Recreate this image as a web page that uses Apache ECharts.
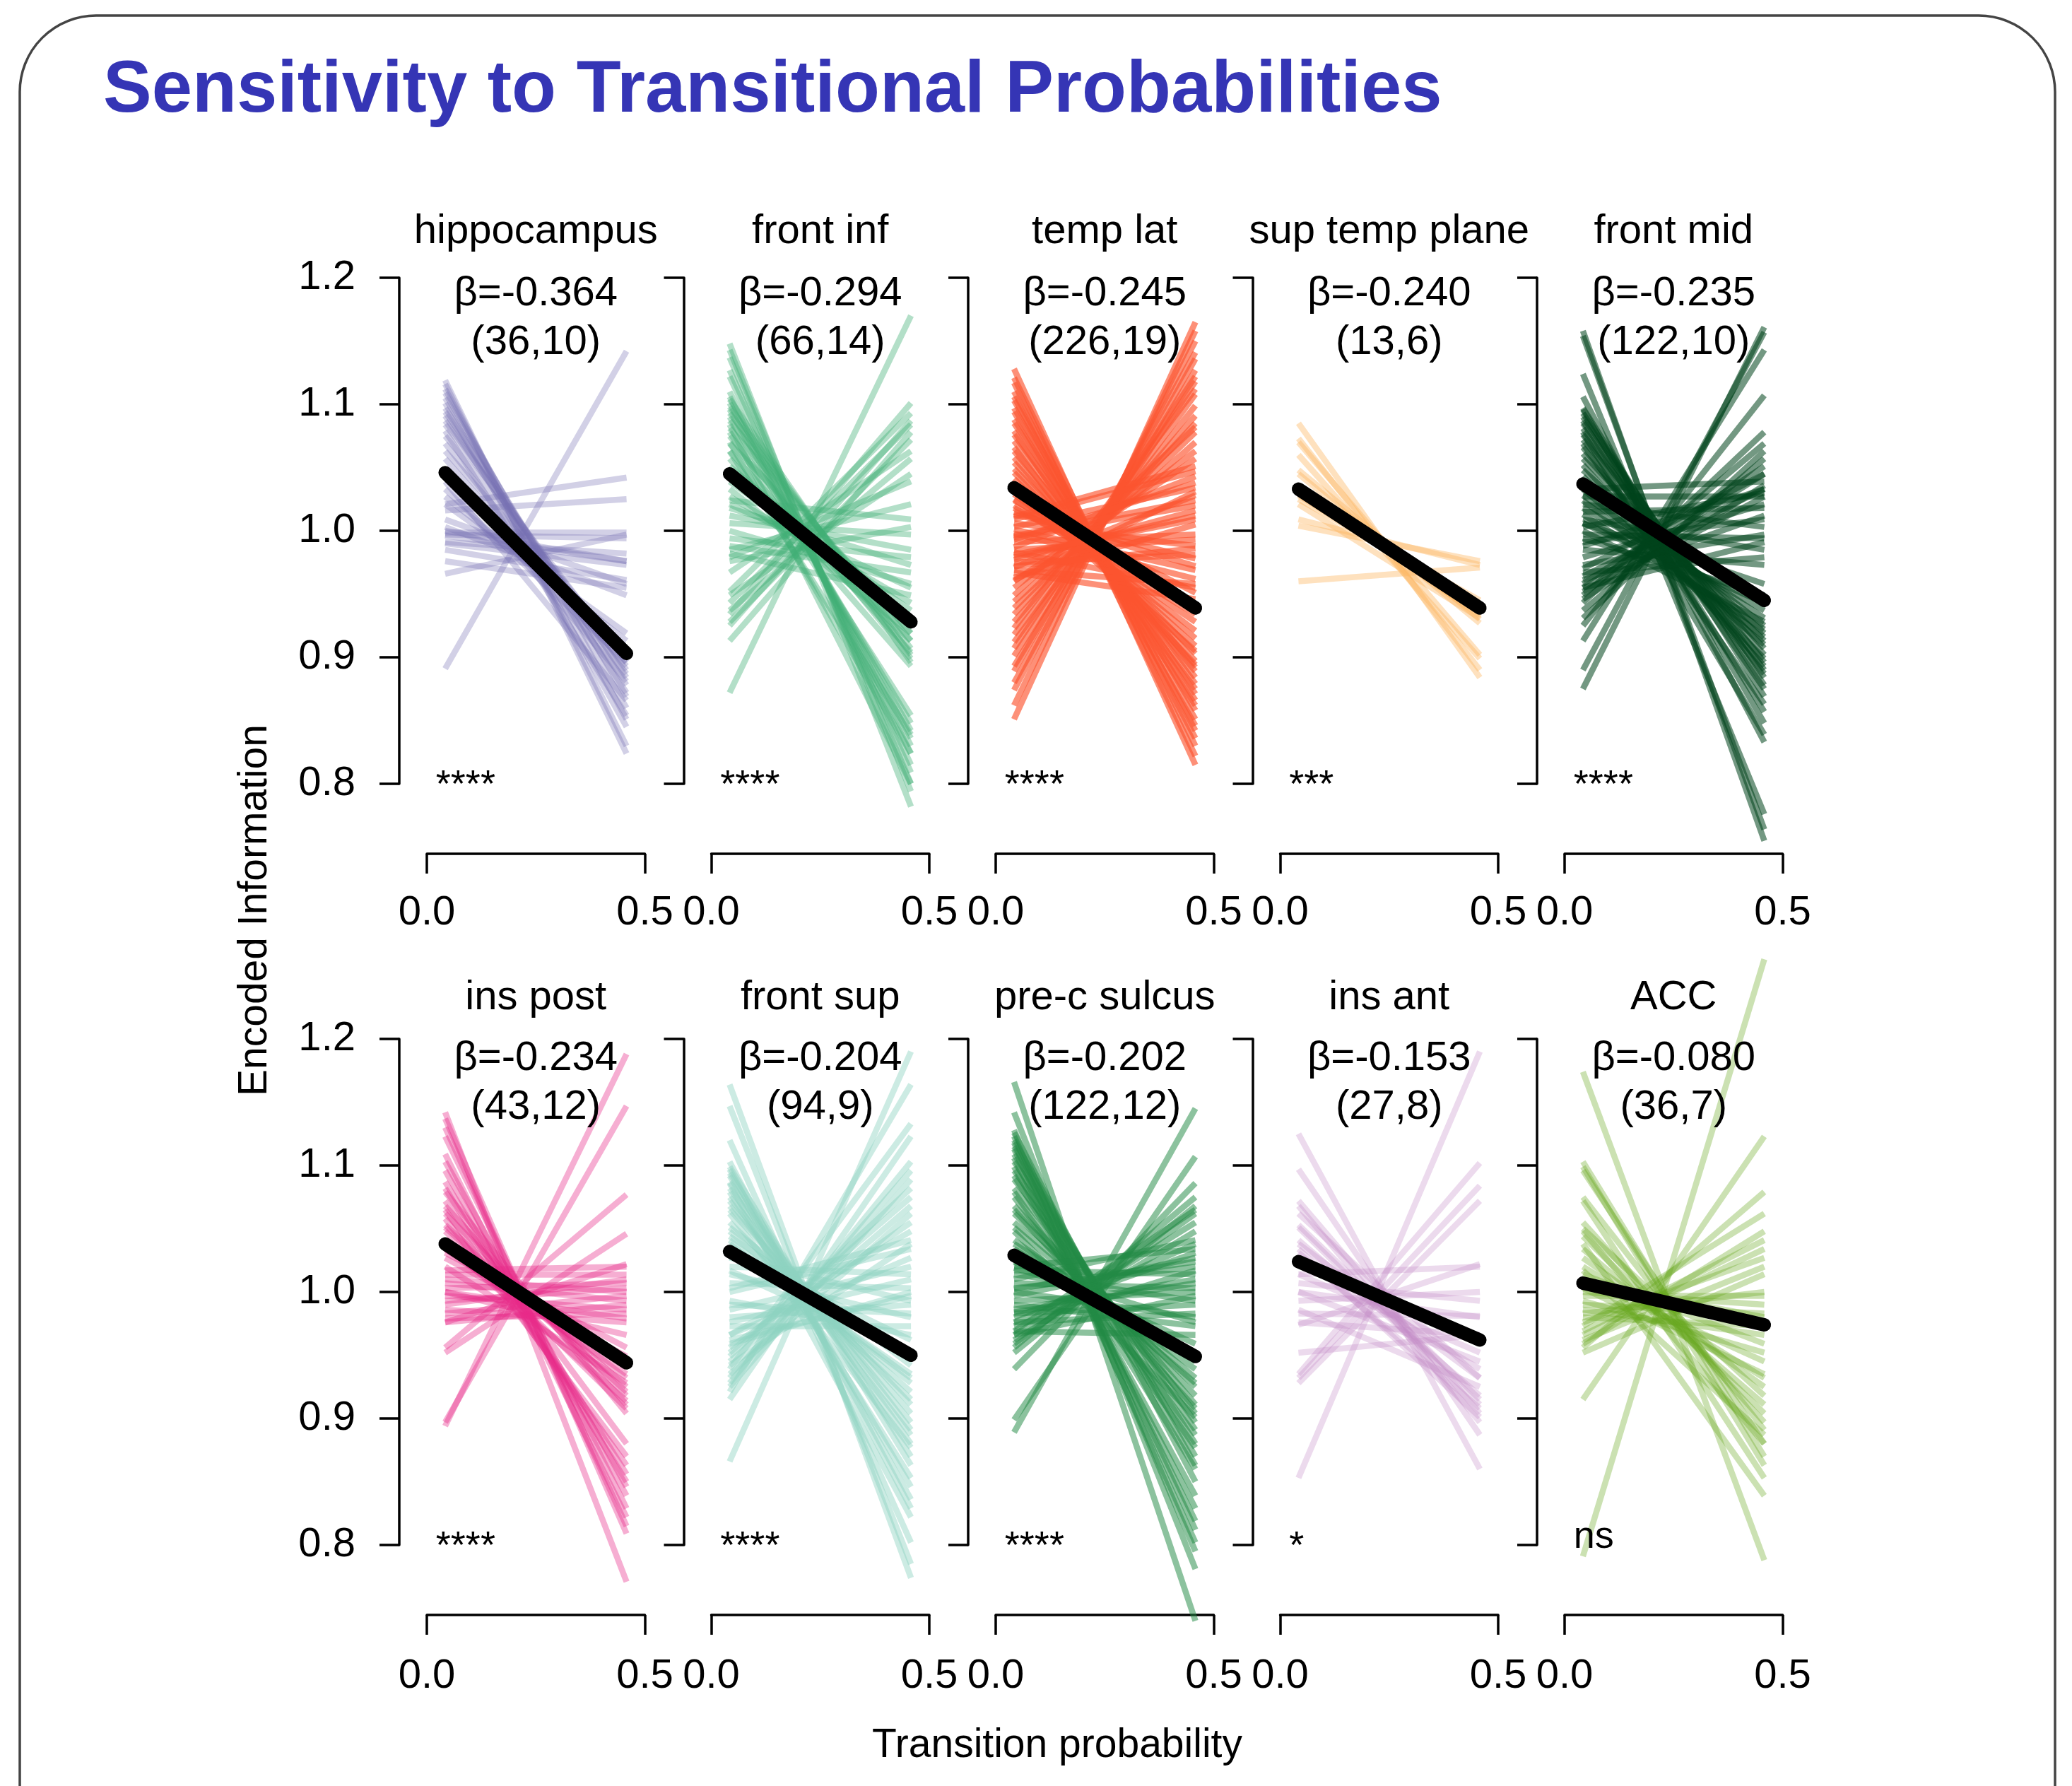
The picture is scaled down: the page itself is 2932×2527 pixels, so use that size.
<!DOCTYPE html>
<html><head><meta charset="utf-8">
<script src="https://cdn.jsdelivr.net/npm/echarts@6/dist/echarts.min.js"></script>
<style>html,body{margin:0;padding:0;background:#fff}#chart{width:2932px;height:2527px}</style>
</head><body><div id="chart"></div>
<script>
// ---------------- DATA ----------------
const regions = ['hippocampus','front inf','temp lat','sup temp plane','front mid','ins post','front sup','pre-c sulcus','ins ant','ACC'];
const betas = ['-0.364','-0.294','-0.245','-0.240','-0.235','-0.234','-0.204','-0.202','-0.153','-0.080'];
const counts = ['(36,10)','(66,14)','(226,19)','(13,6)','(122,10)','(43,12)','(94,9)','(122,12)','(27,8)','(36,7)'];
const signif = ['****','****','****','***','****','****','****','****','*','ns'];
const tpValues = [0.042, 0.458];
const meanLow  = [1.046,1.045,1.034,1.033,1.037,1.038,1.032,1.029,1.024,1.007];
const meanHigh = [0.903,0.928,0.939,0.939,0.945,0.944,0.950,0.949,0.962,0.974];

const hippoLow  = [1.119,1.116,1.112,1.109,1.105,1.101,1.097,1.094,1.091,1.087,1.084,1.079,1.075,1.069,1.063,1.057,1.049,1.045,1.039,1.033,1.027,1.021,1.021,1.016,0.999,0.997,0.996,0.991,0.990,0.985,0.976,0.966,1.003,1.009,1.000,0.891];
const hippoHigh = [0.824,0.830,0.851,0.860,0.869,0.845,0.878,0.884,0.872,0.890,0.896,0.854,0.899,0.887,0.902,0.893,0.881,0.904,0.866,0.896,0.913,0.919,1.042,1.025,0.999,0.994,0.976,0.982,0.973,0.961,0.955,0.997,0.949,0.958,0.976,1.142];

const frontInfLow  = [1.148,1.143,1.137,1.127,1.122,1.110,1.106,1.101,1.096,1.090,1.084,1.078,1.070,1.063,1.104,1.098,1.093,1.087,1.081,1.075,1.069,1.063,1.057,1.051,1.045,1.039,1.033,1.027,1.024,1.018,1.012,1.006,1.000,0.994,0.988,0.982,0.976,1.021,0.952,0.943,0.934,0.928,0.913,0.949,0.937,0.979,0.967,0.925,0.985,0.872];
const frontInfHigh = [0.782,0.794,0.800,0.809,0.815,0.824,0.830,0.836,0.842,0.848,0.800,0.854,0.824,0.839,0.896,0.902,0.907,0.913,0.919,0.899,0.925,0.904,0.893,0.931,0.913,0.937,0.919,0.943,1.009,0.973,0.985,0.997,0.958,0.979,0.967,0.949,1.003,0.955,1.093,1.084,1.101,1.072,1.078,1.045,1.057,1.039,1.063,1.087,1.021,1.170];

const tempLatLow  = [1.128,1.121,1.117,1.110,1.106,1.103,1.097,1.094,1.088,1.085,1.079,1.076,1.071,1.066,1.063,1.058,1.054,1.049,1.046,1.041,1.037,1.033,1.029,1.025,1.020,0.851,0.862,0.874,0.880,0.889,0.893,0.901,0.907,0.912,0.918,0.923,0.928,0.934,0.939,0.944,0.949,0.955,0.960,1.015,1.011,1.006,1.003,0.998,0.995,0.991,0.987,0.983,0.979,0.975,0.971,0.967,0.963,1.018,1.009,1.001,0.993,0.985,0.977,0.969,0.961,1.024,1.013,0.996,0.981,0.972];
const tempLatHigh = [0.815,0.830,0.822,0.842,0.836,0.851,0.858,0.846,0.866,0.871,0.862,0.879,0.884,0.875,0.892,0.889,0.897,0.903,0.894,0.909,0.915,0.905,0.921,0.928,0.934,1.165,1.158,1.150,1.136,1.141,1.127,1.118,1.122,1.108,1.099,1.112,1.091,1.085,1.078,1.070,1.082,1.063,1.057,0.972,1.051,0.988,1.034,0.962,1.020,0.997,1.043,0.955,1.012,0.981,1.028,0.946,1.005,0.941,1.047,0.969,1.038,0.993,1.016,0.958,1.031,0.951,0.978,1.024,1.009,0.986];

const supTempLow  = [1.085,1.073,1.070,1.060,1.048,1.045,1.033,1.028,1.025,1.021,1.009,1.004,0.960];
const supTempHigh = [0.884,0.890,0.902,0.899,0.930,0.927,0.933,0.940,0.945,0.931,0.973,0.976,0.971];

const frontMidLow  = [1.158,1.154,1.124,1.106,1.096,1.087,1.078,1.069,1.097,1.093,1.090,1.085,1.081,1.076,1.072,1.066,1.061,1.057,1.052,1.048,1.043,1.039,1.033,1.028,1.024,1.018,1.013,1.006,1.000,0.994,1.033,1.027,1.021,1.015,1.009,1.003,0.997,0.991,0.985,0.979,0.973,0.967,0.961,0.955,0.988,1.006,0.875,0.890,0.913,0.925,0.943,0.949,0.931,0.937,0.955,0.946,0.964,0.970,0.952,0.958];
const frontMidHigh = [0.755,0.764,0.776,0.833,0.848,0.857,0.839,0.863,0.869,0.878,0.884,0.890,0.875,0.896,0.902,0.887,0.907,0.913,0.893,0.919,0.899,0.925,0.910,0.931,0.916,0.937,0.922,0.943,0.928,0.949,1.039,1.027,1.003,1.018,0.985,1.030,0.994,1.009,0.973,1.021,0.997,0.979,1.012,0.991,1.033,0.958,1.161,1.157,1.143,1.107,1.078,1.069,1.063,1.057,1.045,1.036,1.033,1.045,1.027,1.051];

const insPostLow  = [1.142,1.137,1.130,1.123,1.109,1.103,1.096,1.087,1.082,1.072,1.065,1.058,1.079,1.068,1.062,1.053,1.048,1.041,1.034,1.027,1.020,1.038,1.031,1.051,1.014,1.010,1.007,1.003,1.000,0.997,0.993,0.990,0.986,0.983,0.979,0.976,1.017,1.000,0.894,0.897,0.956,0.952,0.976];
const insPostHigh = [0.771,0.809,0.815,0.829,0.822,0.846,0.839,0.856,0.850,0.880,0.863,0.870,0.904,0.911,0.918,0.925,0.908,0.932,0.935,0.949,0.928,0.914,0.956,0.921,1.014,1.000,0.993,1.007,0.979,0.986,1.003,1.010,0.976,0.997,0.983,0.990,1.020,0.966,1.188,1.147,1.077,1.046,1.022];

const frontSupLow  = [1.164,1.147,1.120,1.103,1.097,1.092,1.086,1.079,1.099,1.094,1.087,1.082,1.075,1.068,1.062,1.055,1.048,1.041,1.034,1.072,1.065,1.051,1.044,1.038,1.027,1.020,1.014,1.007,1.000,0.993,0.986,0.980,0.973,0.966,0.959,1.017,1.003,0.990,0.976,0.962,1.031,0.866,0.921,0.939,0.915,0.932,0.949,0.945,0.925,0.956,0.952,0.935,0.966,0.928,0.942];
const frontSupHigh = [0.774,0.785,0.802,0.829,0.836,0.846,0.822,0.853,0.863,0.870,0.880,0.891,0.897,0.904,0.877,0.915,0.921,0.928,0.935,0.887,0.911,0.942,0.949,0.932,0.993,1.014,0.980,1.003,1.034,0.966,1.020,0.990,0.973,1.027,1.000,0.952,1.041,0.983,1.010,0.997,0.962,1.190,1.164,1.133,1.123,1.096,1.082,1.068,1.089,1.055,1.075,1.062,1.048,1.103,1.038];

const preCLow  = [1.166,1.142,1.128,1.123,1.118,1.113,1.106,1.099,1.126,1.120,1.115,1.109,1.103,1.096,1.089,1.082,1.075,1.068,1.062,1.055,1.048,1.041,1.034,1.027,1.092,1.079,1.065,1.051,1.038,1.024,1.020,1.017,1.014,1.010,1.007,1.003,1.000,0.997,0.993,0.990,0.986,0.983,0.980,0.976,0.973,0.969,0.966,1.019,1.002,0.984,0.889,0.899,0.939,0.952,0.959,0.966,0.962,0.956,0.976,0.969];
const preCHigh = [0.740,0.781,0.795,0.812,0.802,0.819,0.829,0.839,0.850,0.863,0.870,0.880,0.891,0.897,0.904,0.911,0.887,0.918,0.925,0.932,0.901,0.939,0.945,0.952,0.860,0.877,0.908,0.928,0.949,0.959,1.034,1.014,0.993,1.041,1.003,1.020,0.980,1.027,1.000,0.973,1.010,0.990,1.031,0.983,1.017,0.966,0.997,0.976,1.024,1.007,1.145,1.107,1.086,1.068,1.062,1.055,1.048,1.075,1.038,1.065];

const insAntLow  = [1.125,1.097,1.072,1.068,1.053,1.051,1.041,1.038,1.031,1.027,1.014,1.007,1.000,0.993,0.983,0.974,1.014,1.000,0.986,0.976,0.952,0.935,0.932,0.928,0.853,1.034,1.062];
const insAntHigh = [0.860,0.887,0.904,0.897,0.915,0.911,0.918,0.932,0.908,0.939,1.020,0.993,0.980,1.000,0.981,1.022,0.952,0.945,0.925,0.966,0.966,1.102,1.084,1.072,1.190,0.901,0.932];

const accLow  = [1.174,0.791,0.915,1.103,1.099,1.096,1.075,1.072,1.055,1.050,1.044,1.038,1.034,1.020,1.017,1.010,1.003,1.000,0.997,0.993,0.990,0.986,0.983,0.980,0.973,0.969,0.966,0.962,0.959,0.956,0.952,1.027,1.014,1.007,0.976,1.048];
const accHigh = [0.788,1.263,1.123,0.870,0.863,0.880,0.891,0.853,0.897,0.918,0.904,0.839,0.911,0.932,0.887,0.945,0.935,0.990,0.997,0.952,0.983,0.966,1.000,0.973,1.062,1.041,1.034,1.020,1.048,1.079,1.014,0.925,0.959,0.980,1.027,0.880];

// ---------------- STYLE / LAYOUT ----------------
const lineSets = [[hippoLow,hippoHigh],[frontInfLow,frontInfHigh],[tempLatLow,tempLatHigh],[supTempLow,supTempHigh],[frontMidLow,frontMidHigh],
                  [insPostLow,insPostHigh],[frontSupLow,frontSupHigh],[preCLow,preCHigh],[insAntLow,insAntHigh],[accLow,accHigh]];
const colors = ['#7570b3','#41ae76','#fc5430','#fdb863','#00441b','#e7298a','#8dd3c0','#238b45','#c48bc6','#66a61e'];
const alphas = [0.33,0.4,0.65,0.42,0.55,0.38,0.45,0.52,0.32,0.34];
const FONT = '"Liberation Sans", Arial, Helvetica, sans-serif';
const GRID_LEFT0 = 604, GRID_PITCH = 402.5, GRID_W = 308.5, GRID_H = 716, ROW_TOP = [393, 1470];
const TITLE_OFFSET = [65, 58], TEXT_Y = [1.168, 1.165];

const grids = [], xAxes = [], yAxes = [], series = [], graphics = [];

graphics.push({type:'rect', z:-10, shape:{x:28,y:22,width:2880,height:2700,r:108}, style:{fill:'none', stroke:'#444', lineWidth:3.5}});
graphics.push({type:'text', x:146, y:130, style:{text:'Sensitivity to Transitional Probabilities', font:'bold 103px ' + FONT, fill:'#3535b5', align:'left', verticalAlign:'middle', textAlign:'left', textVerticalAlign:'middle'}});
graphics.push({type:'text', x:361, y:1288, rotation:Math.PI/2, style:{text:'Encoded Information', font:'57px ' + FONT, fill:'#000', align:'center', verticalAlign:'middle', textAlign:'center', textVerticalAlign:'middle'}});
graphics.push({type:'text', x:1496, y:2470, style:{text:'Transition probability', font:'57px ' + FONT, fill:'#000', align:'center', verticalAlign:'middle', textAlign:'center', textVerticalAlign:'middle'}});

regions.forEach((name, i) => {
  const r = Math.floor(i / 5), c = i % 5;
  const left = GRID_LEFT0 + c * GRID_PITCH, top = ROW_TOP[r];
  grids.push({left, top, width:GRID_W, height:GRID_H, containLabel:false});
  xAxes.push({gridIndex:i, type:'value', min:0, max:0.5, interval:0.5, offset:99,
    axisLine:{show:true, onZero:false, lineStyle:{color:'#000', width:3.5}},
    axisTick:{show:true, length:28, lineStyle:{color:'#000', width:3.5}},
    axisLabel:{show:true, margin:r === 0 ? 55 : 58, fontSize:58, color:'#000', fontFamily:FONT, showMinLabel:true, showMaxLabel:true, formatter:v => v.toFixed(1)},
    splitLine:{show:false}});
  yAxes.push({gridIndex:i, type:'value', min:0.8, max:1.2, interval:0.1, offset:39,
    axisLine:{show:true, onZero:false, lineStyle:{color:'#000', width:3.5}},
    axisTick:{show:true, length:28, lineStyle:{color:'#000', width:3.5}},
    axisLabel:{show:c === 0, margin:62, fontSize:58, color:'#000', fontFamily:FONT, formatter:v => v.toFixed(1)},
    splitLine:{show:false}});
  const [low, high] = lineSets[i];
  series.push({type:'lines', coordinateSystem:'cartesian2d', xAxisIndex:i, yAxisIndex:i, clip:false, silent:true, z:2,
    lineStyle:{color:colors[i], width:8.5, opacity:alphas[i], cap:'butt'},
    data: low.map((v, k) => ({coords:[[tpValues[0], v],[tpValues[1], high[k]]]}))});
  series.push({type:'line', xAxisIndex:i, yAxisIndex:i, clip:false, silent:true, z:5, symbol:'none', showSymbol:false,
    lineStyle:{color:'#000', width:19, cap:'round'},
    data:[[tpValues[0], meanLow[i]],[tpValues[1], meanHigh[i]]]});
  series.push({type:'scatter', xAxisIndex:i, yAxisIndex:i, clip:false, silent:true, z:6, symbolSize:1,
    itemStyle:{color:'rgba(0,0,0,0)', opacity:1},
    label:{show:true, position:'inside', fontSize:58, lineHeight:69, color:'#000', opacity:1, textBorderWidth:0, fontFamily:FONT},
    data:[
      {value:[0.25, TEXT_Y[r]], label:{formatter:'β=' + betas[i] + '\n' + counts[i]}},
      {value:[0.02, signif[i] === 'ns' ? 0.806 : 0.798], label:{position:'right', distance:0, fontSize:54, formatter:signif[i]}}
    ]});
  graphics.push({type:'text', x:left + GRID_W / 2, y:top - TITLE_OFFSET[r], style:{text:name, font:'58px ' + FONT, fill:'#000', align:'center', verticalAlign:'middle', textAlign:'center', textVerticalAlign:'middle'}});
});

const chart = echarts.init(document.getElementById('chart'), null, {renderer:'canvas'});
chart.setOption({backgroundColor:'#fff', animation:false, grid:grids, xAxis:xAxes, yAxis:yAxes, series, graphic:graphics});
</script></body></html>
